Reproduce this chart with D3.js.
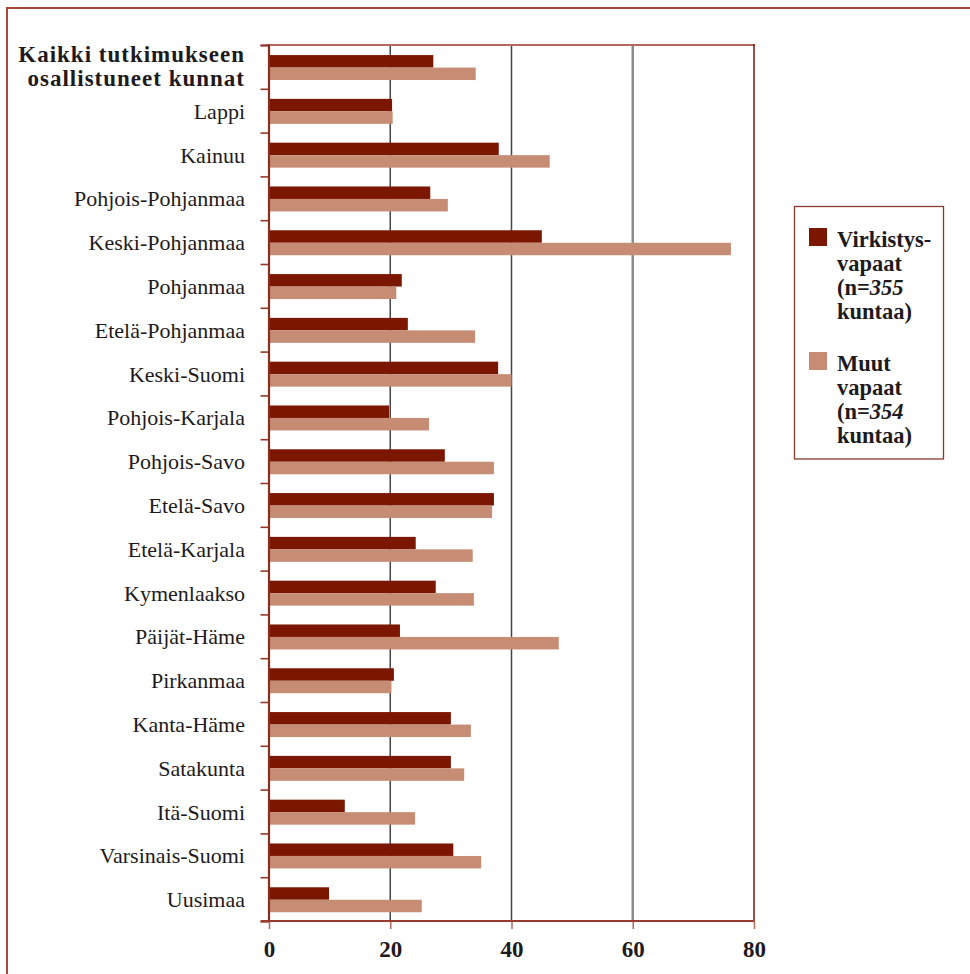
<!DOCTYPE html>
<html>
<head>
<meta charset="utf-8">
<script src="https://cdn.jsdelivr.net/npm/d3@7"></script>
<style>
  html, body { margin: 0; padding: 0; background: #fff; }
  svg { display: block; }
  text { font-family: "Liberation Serif", "DejaVu Serif", serif; fill: #1e1a1b; }
</style>
</head>
<body>
<svg id="chart" width="970" height="974"></svg>
<script>
// Regions (top to bottom); the first row is the total over all municipalities
const categories = [
  "Kaikki tutkimukseen osallistuneet kunnat",
  "Lappi", "Kainuu", "Pohjois-Pohjanmaa", "Keski-Pohjanmaa", "Pohjanmaa",
  "Etelä-Pohjanmaa", "Keski-Suomi", "Pohjois-Karjala", "Pohjois-Savo",
  "Etelä-Savo", "Etelä-Karjala", "Kymenlaakso", "Päijät-Häme", "Pirkanmaa",
  "Kanta-Häme", "Satakunta", "Itä-Suomi", "Varsinais-Suomi", "Uusimaa"
];
const virkistysvapaat = [27.1, 20.3, 37.9, 26.6, 45.0, 21.9, 22.9, 37.8, 19.8, 29.0,
                         37.1, 24.2, 27.5, 21.6, 20.6, 30.0, 30.0, 12.5, 30.4, 9.9];
const muutVapaat =      [34.1, 20.4, 46.3, 29.5, 76.2, 21.0, 34.0, 40.0, 26.4, 37.1,
                         36.8, 33.6, 33.8, 47.8, 20.2, 33.3, 32.2, 24.1, 35.0, 25.2];
const seriesKeys = ["virkistys", "muut"];
const legendLines = [
  ["Virkistys-", "vapaat", "(n=|355", "kuntaa)"],
  ["Muut", "vapaat", "(n=|354", "kuntaa)"]
];
const xTicks = [0, 20, 40, 60, 80];

const colors = { virkistys: "#7b1600", muut: "#c68d74" };

const rows = categories.map((c, i) => ({ name: c, virkistys: virkistysvapaat[i], muut: muutVapaat[i] }));

const svg = d3.select("#chart");
const plotLeft = 269, plotRight = 754, plotTop = 45, plotBottom = 921;

const x = d3.scaleLinear().domain([0, 80]).range([plotLeft, plotRight]);
const y = d3.scaleBand().domain(categories).range([plotTop, plotBottom]).paddingInner(0).paddingOuter(0);
// bars occupy the middle part of each band
const yInner = d3.scaleBand().domain(seriesKeys)
  .range([y.bandwidth() * 0.23, y.bandwidth() * 0.80]);

// outer frame (top and left rules)
svg.append("line").attr("x1", 6).attr("x2", 970).attr("y1", 8).attr("y2", 8)
  .attr("stroke", "#a44a3d").attr("stroke-width", 2);
svg.append("line").attr("x1", 7).attr("x2", 7).attr("y1", 8).attr("y2", 974)
  .attr("stroke", "#a44a3d").attr("stroke-width", 2);

// vertical gridlines
svg.append("g").selectAll("line").data([20, 40, 60]).join("line")
  .attr("x1", d => x(d)).attr("x2", d => x(d))
  .attr("y1", plotTop).attr("y2", plotBottom)
  .attr("stroke", d => d === 60 ? "#8c8c8c" : "#444")
  .attr("stroke-width", d => d === 60 ? 2.5 : 1.5);

// bars
const groups = svg.append("g").selectAll("g").data(rows).join("g")
  .attr("transform", d => `translate(0,${y(d.name)})`);
groups.selectAll("rect").data(d => seriesKeys.map(k => ({ key: k, value: d[k] }))).join("rect")
  .attr("x", x(0))
  .attr("y", d => yInner(d.key))
  .attr("width", d => x(d.value) - x(0))
  .attr("height", yInner.bandwidth())
  .attr("fill", d => colors[d.key]);

// plot frame: top and right
svg.append("line").attr("x1", plotLeft - 2).attr("x2", plotRight + 1).attr("y1", plotTop).attr("y2", plotTop)
  .attr("stroke", "#b5685e").attr("stroke-width", 2);
svg.append("line").attr("x1", plotRight).attr("x2", plotRight).attr("y1", plotTop - 1).attr("y2", plotBottom)
  .attr("stroke", "#7a1a0a").attr("stroke-width", 1.5);

// left axis: ticks at band boundaries
const yEdges = d3.scaleLinear().domain([0, categories.length]).range([plotTop, plotBottom]);
const yAxisG = svg.append("g").attr("transform", `translate(${plotLeft - 0.5},0)`)
  .call(d3.axisLeft(yEdges).tickValues(d3.range(0, categories.length + 1)).tickSize(8).tickFormat(""));
yAxisG.select(".domain").attr("stroke", "#8a2e1e").attr("stroke-width", 2.2);
yAxisG.selectAll(".tick line").attr("stroke", "#93392c").attr("stroke-width", 1.6);

// bottom axis
const xAxisG = svg.append("g").attr("transform", `translate(0,${plotBottom})`)
  .call(d3.axisBottom(x).tickValues(xTicks).tickSize(8).tickSizeOuter(0));
xAxisG.select(".domain").remove();
xAxisG.append("line").attr("x1", plotLeft - 8).attr("x2", plotRight).attr("y1", 0).attr("y2", 0)
  .attr("stroke", "#9a3a2e").attr("stroke-width", 2);
xAxisG.selectAll(".tick line").attr("stroke", "#b06a60").attr("stroke-width", 1.5);
xAxisG.selectAll(".tick text")
  .attr("y", 36).attr("dy", 0)
  .style("font-family", "'Liberation Serif', 'DejaVu Serif', serif")
  .style("font-size", "23px").style("font-weight", "bold").attr("fill", "#1e1a1b");

// category labels
const labelX = 245;
svg.append("g").selectAll("text").data(categories.slice(1)).join("text")
  .attr("x", labelX)
  .attr("y", d => y(d) + y.bandwidth() / 2 + 8)
  .attr("text-anchor", "end")
  .style("font-size", "22px")
  .text(d => d);

// total row label, bold on two lines
const totalWords = categories[0].split(" ");
const totalLines = [totalWords.slice(0, 2).join(" "), totalWords.slice(2).join(" ")];
const c0 = y(categories[0]) + y.bandwidth() / 2;
svg.append("g").selectAll("text").data(totalLines).join("text")
  .attr("x", labelX)
  .attr("y", (d, i) => c0 - 5 + i * 24)
  .attr("text-anchor", "end")
  .style("font-size", "23px").style("font-weight", "bold").style("letter-spacing", "1px")
  .text(d => d);

// legend
const lg = svg.append("g");
lg.append("rect").attr("x", 794.5).attr("y", 206.5).attr("width", 149).attr("height", 252.5)
  .attr("fill", "none").attr("stroke", "#8b3a30").attr("stroke-width", 1.3);
const legendY = [228, 352];
seriesKeys.forEach((k, i) => {
  lg.append("rect").attr("x", 809).attr("y", legendY[i]).attr("width", 18).attr("height", 18)
    .attr("fill", colors[k]);
  legendLines[i].forEach((line, j) => {
    const t = lg.append("text").attr("x", 837).attr("y", legendY[i] + 19 + j * 24)
      .style("font-size", "22.5px").style("font-weight", "bold");
    const parts = line.split("|");
    t.append("tspan").text(parts[0]);
    if (parts[1]) t.append("tspan").style("font-style", "italic").text(parts[1]);
  });
});
</script>
</body>
</html>
